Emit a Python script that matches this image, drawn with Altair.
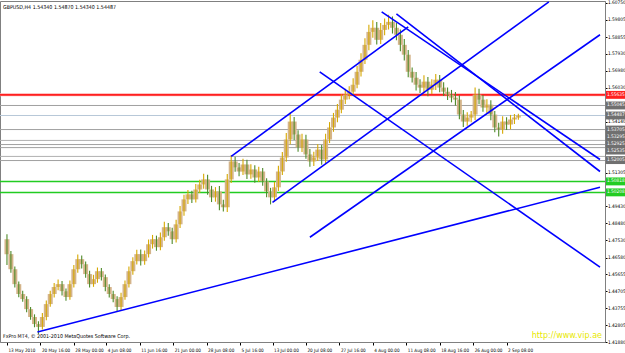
import altair as alt
import pandas as pd

# ---------------- data ----------------
first_open = 1.4760
closes = [
    1.4677, 1.4593, 1.4510, 1.4455, 1.4427, 1.4371, 1.4327, 1.4288, 1.4272, 1.4327,
    1.4399, 1.4455, 1.4494, 1.4510, 1.4471, 1.4438, 1.4510, 1.4593, 1.4649, 1.4621,
    1.4566, 1.4510, 1.4538, 1.4582, 1.4549, 1.4494, 1.4455, 1.4427, 1.4383, 1.4438,
    1.4510, 1.4582, 1.4638, 1.4677, 1.4638, 1.4677, 1.4732, 1.4760, 1.4716, 1.4771,
    1.4827, 1.4804, 1.4760, 1.4843, 1.4915, 1.4982, 1.5010, 1.4982, 1.5037, 1.5065,
    1.5093, 1.5037, 1.4993, 1.5026, 1.4954, 1.4938, 1.5093, 1.5193, 1.5160, 1.5137,
    1.5176, 1.5121, 1.5148, 1.5104, 1.5137, 1.5082, 1.5026, 1.4993, 1.5049, 1.5137,
    1.5215, 1.5315, 1.5415, 1.5343, 1.5271, 1.5315, 1.5232, 1.5193, 1.5215, 1.5259,
    1.5204, 1.5315, 1.5382, 1.5437, 1.5481, 1.5537, 1.5565, 1.5581, 1.5620, 1.5692,
    1.5759, 1.5842, 1.5914, 1.5937, 1.5870, 1.5925, 1.5953, 1.5970, 1.5937, 1.5898,
    1.5842, 1.5787, 1.5692, 1.5659, 1.5620, 1.5604, 1.5637, 1.5592, 1.5620, 1.5648,
    1.5604, 1.5581, 1.5565, 1.5548, 1.5537, 1.5454, 1.5415, 1.5437, 1.5454, 1.5565,
    1.5537, 1.5493, 1.5509, 1.5454, 1.5382, 1.5371, 1.5415, 1.5398, 1.5426, 1.5437,
    1.5449,
]
# upper / lower wick lengths in pips
hi_pips = [
    28, 18, 15, 15, 18, 15, 12, 15, 15, 22,
    20, 18, 22, 26, 18, 15, 20, 24, 26, 20,
    15, 18, 24, 20, 18, 15, 15, 18, 15, 24,
    20, 26, 22, 24, 26, 20, 26, 24, 20, 26,
    30, 24, 20, 26, 30, 26, 24, 20, 30, 26,
    32, 26, 20, 24, 30, 26, 30, 36, 26, 24,
    32, 26, 30, 24, 26, 20, 18, 20, 30, 32,
    30, 36, 50, 26, 24, 32, 26, 30, 32, 30,
    26, 32, 30, 26, 32, 30, 32, 30, 36, 32,
    36, 36, 40, 42, 32, 38, 36, 40, 30, 26,
    30, 32, 26, 24, 32, 30, 36, 26, 30, 32,
    26, 30, 24, 26, 32, 24, 26, 30, 20, 40,
    32, 26, 30, 24, 20, 26, 30, 24, 26, 20,
    10,
]
lo_pips = [
    60, 20, 18, 18, 15, 18, 15, 18, 39, 15,
    18, 15, 20, 18, 24, 20, 15, 18, 20, 24,
    20, 18, 15, 20, 18, 24, 20, 18, 28, 18,
    15, 18, 20, 18, 24, 20, 18, 24, 20, 18,
    20, 24, 26, 18, 20, 24, 26, 20, 18, 20,
    24, 30, 26, 24, 32, 23, 26, 20, 24, 26,
    20, 26, 24, 30, 26, 24, 32, 39, 24, 20,
    20, 24, 26, 30, 24, 26, 24, 30, 26, 20,
    30, 24, 20, 24, 26, 20, 24, 26, 24, 20,
    26, 24, 30, 32, 26, 24, 30, 26, 32, 30,
    36, 32, 30, 26, 32, 30, 26, 36, 24, 30,
    26, 24, 30, 26, 32, 26, 30, 24, 26, 30,
    26, 24, 30, 32, 26, 39, 24, 30, 26, 24,
    12,
]

# price axis ticks that are visible on the chart (others are hidden by price boxes)
price_labels = ["1.60750", "1.59805", "1.58855", "1.57930", "1.56980", "1.56030",
                "1.54140", "1.51305",
                "1.49430", "1.48480", "1.47530", "1.46580", "1.45655", "1.44705",
                "1.43755", "1.42805", "1.41880"]

# time axis ticks (bar index) and labels
time_pos = [2, 36, 70, 103, 137, 171, 205, 239, 272, 306, 340, 374, 408, 442, 476, 510]
time_labels = ["13 May 2010", "20 May 16:00", "28 May 00:00", "4 Jun 08:00",
               "11 Jun 16:00", "21 Jun 00:00", "28 Jun 08:00", "5 Jul 16:00",
               "13 Jul 00:00", "20 Jul 08:00", "27 Jul 16:00", "4 Aug 00:00",
               "11 Aug 08:00", "18 Aug 16:00", "26 Aug 00:00", "2 Sep 08:00"]

# horizontal lines
hline_price = [1.55655, 1.55615, 1.55045, 1.54487, 1.53705, 1.53100, 1.52870,
               1.52700, 1.52210, 1.51980, 1.50818, 1.50208]
hline_color = ["#ff2020", "#ff2020", "#a0a0a0", "#b8c8d8", "#a0a0a0", "#b0b0b0",
               "#a0a0a0", "#a0a0a0", "#b0b0b0", "#a0a0a0", "#22cc22", "#22cc22"]
hline_width = [1.2, 1.2, 1, 1, 1, 1, 1, 1, 1, 1, 1.5, 1.5]
band_price = [1.55635]

# price boxes on the axis
box_price = [1.55635, 1.55045, 1.54487, 1.53705, 1.53295, 1.52925, 1.52535, 1.52005,
             1.50818, 1.50208]
box_label = ["1.55635", "1.55045", "1.54487", "1.53705", "1.53295", "1.52925",
             "1.52535", "1.52005", "1.50818", "1.50208"]
box_fill = ["#ff2020", "#707070", "#707070", "#707070", "#707070", "#707070",
            "#707070", "#707070", "#22cc22", "#22cc22"]

# trend lines: (bar, price) endpoints
trend_id = ["L1", "L1", "A", "A", "B", "B", "C", "C", "D1", "D1", "D2", "D2", "E", "E"]
trend_t = [33, 605, 230, 410, 272, 553, 310, 605, 383, 605, 398, 605, 320, 605]
trend_p = [1.4244, 1.5049, 1.5221, 1.5942, 1.4965, 1.6081, 1.4771, 1.5898,
           1.6025, 1.5204, 1.6014, 1.5137, 1.5692, 1.4605]

# ---------------- tables ----------------
rows = []
prev = first_open
for i, c in enumerate(closes):
    o = prev
    rows.append(dict(t=2 + 4 * i, o=o, c=c,
                     h=max(o, c) + hi_pips[i] / 10000.0,
                     l=min(o, c) - lo_pips[i] / 10000.0,
                     col="#d6a800" if c >= o else "#4f8a2a"))
    prev = c
candles = pd.DataFrame(rows)
hlines = pd.DataFrame(dict(p=hline_price, col=hline_color, w=hline_width))
band = pd.DataFrame(dict(p=band_price))
boxes = pd.DataFrame(dict(p=box_price, lab=box_label, fill=box_fill))
trends = pd.DataFrame(dict(id=trend_id, t=trend_t, p=trend_p))

W, H = 605, 341
xs = alt.Scale(domain=[0, 605], nice=False, zero=False)
ys = alt.Scale(domain=[1.4188, 1.6086], nice=False, zero=False)

FONT = "DejaVu Sans Condensed"

x_label_expr = "[" + ",".join("'%s'" % s for s in time_labels) + "][indexof([" + \
    ",".join(str(v) for v in time_pos) + "], datum.value)]"

x_axis = alt.Axis(values=time_pos, labelExpr=x_label_expr, labelAlign="left",
                  labelOffset=1, labelFontSize=4.6, labelColor="#000000",
                  tickSize=3, tickColor="#000000", domainColor="#808080",
                  grid=False, title=None, labelPadding=2, labelFont=FONT,
                  labelOverlap=False, labelFlush=False)
y_axis = alt.Axis(orient="right", values=[float(s) for s in price_labels],
                  format=".5f", labelFontSize=4.8, labelColor="#000000",
                  tickSize=2, tickColor="#000000", domainColor="#808080",
                  grid=False, title=None, labelPadding=0.5, labelFont=FONT,
                  labelOverlap=False, labelFlush=False)

X = lambda f: alt.X(f, scale=xs, axis=x_axis)
Y = lambda f: alt.Y(f, scale=ys, axis=y_axis)

band_layer = alt.Chart(band).mark_rule(color="#ffb0b0", strokeWidth=3).encode(y=Y("p:Q"))

hline_layer = alt.Chart(hlines).mark_rule().encode(
    y=Y("p:Q"),
    color=alt.Color("col:N", scale=None),
    strokeWidth=alt.StrokeWidth("w:Q", scale=None))

body = alt.Chart(candles).mark_bar(size=5, color="#d2b084", opacity=0.95).encode(
    x=X("t:Q"), y=Y("o:Q"), y2="c:Q")

wick = alt.Chart(candles).mark_rule(strokeWidth=1.1).encode(
    x=X("t:Q"), y=Y("l:Q"), y2="h:Q",
    color=alt.Color("col:N", scale=None))

trend_layer = alt.Chart(trends).mark_line(color="#0000ff", strokeWidth=1.6, clip=True).encode(
    x=X("t:Q"), y=Y("p:Q"), detail="id:N")

box_rect = alt.Chart(boxes).transform_calculate(
    p1="datum.p - 0.0022", p2="datum.p + 0.0022").mark_rect().encode(
    x=alt.value(606), x2=alt.value(625),
    y=Y("p1:Q"), y2="p2:Q",
    color=alt.Color("fill:N", scale=None))

box_text = alt.Chart(boxes).mark_text(align="left", baseline="middle", fontSize=4.8,
                                      color="white", font=FONT).encode(
    x=alt.value(607), y=Y("p:Q"), text="lab:N")

title_txt = alt.Chart(pd.DataFrame(dict(s=["GBPUSD,H4  1.54340 1.54870 1.54340 1.54487"]))).mark_text(
    align="left", baseline="middle", fontSize=5.3, color="#000000", font=FONT).encode(
    x=alt.value(3), y=alt.value(6), text="s:N")

copy_txt = alt.Chart(pd.DataFrame(dict(s=["FxPro MT4, © 2001-2010 MetaQuotes Software Corp."]))).mark_text(
    align="left", baseline="middle", fontSize=5.3, color="#000000", font=FONT).encode(
    x=alt.value(3), y=alt.value(335), text="s:N")

vip_txt = alt.Chart(pd.DataFrame(dict(s=["http://www.vip.ae"]))).mark_text(
    align="right", baseline="middle", fontSize=8, color="#e8e800", font="DejaVu Sans").encode(
    x=alt.value(602), y=alt.value(335), text="s:N")

chart = alt.layer(
    band_layer, hline_layer, body, wick, trend_layer,
    box_rect, box_text, title_txt, copy_txt, vip_txt
).properties(
    width=W, height=H,
    padding={"left": 0, "top": 1, "right": 20, "bottom": 11},
    autosize=alt.AutoSizeParams(type="none"),
    background="white",
).configure_view(stroke="#808080", strokeWidth=1)

chart.save("out.html", embed_options={"renderer": "svg", "actions": False})
